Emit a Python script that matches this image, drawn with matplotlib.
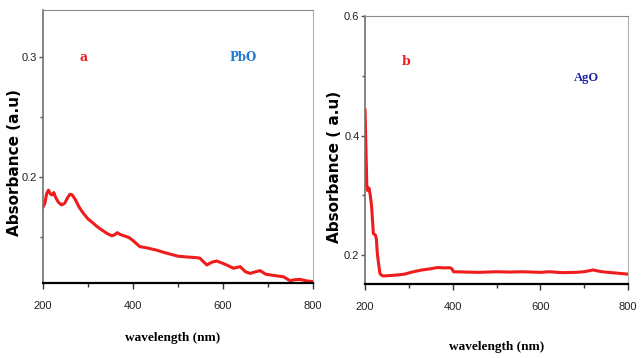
"""
UV-Vis absorbance spectra of PbO and AgO nanoparticles.
"""
import matplotlib
matplotlib.use('Agg')
import matplotlib.pyplot as plt
from matplotlib.ticker import MultipleLocator

# PbO spectrum (panel a)
pbo_wavelength = [200, 204, 208, 212, 216, 220, 224, 228, 234, 241, 248, 255, 260, 265,
                  272, 280, 289, 300, 310, 319, 330, 342, 353, 360, 365, 372, 380, 388,
                  393, 400, 415, 430, 453, 470, 485, 500, 515, 534, 548, 564, 575, 586,
                  600, 612, 623, 638, 650, 660, 672, 682, 695, 712, 722, 734, 749, 760,
                  771, 785, 800]
pbo_absorbance = [0.175, 0.178, 0.186, 0.189, 0.186, 0.185, 0.187, 0.183, 0.179, 0.1767,
                  0.178, 0.183, 0.1856, 0.185, 0.181, 0.175, 0.170, 0.165, 0.162, 0.159,
                  0.156, 0.153, 0.151, 0.152, 0.1536, 0.152, 0.151, 0.150, 0.149, 0.147,
                  0.142, 0.141, 0.139, 0.137, 0.1355, 0.134, 0.1335, 0.133, 0.1325, 0.1267,
                  0.129, 0.130, 0.128, 0.126, 0.124, 0.1253, 0.121, 0.1197, 0.121, 0.122,
                  0.119, 0.118, 0.1175, 0.1169, 0.1136, 0.1145, 0.1147, 0.1135, 0.1128]

# AgO spectrum (panel b)
ago_wavelength = [200, 202, 204, 206, 209, 212, 215, 219, 224, 226, 228, 231, 234, 238,
                  242, 255, 272, 290, 310, 330, 350, 364, 380, 394, 398, 402, 430, 460,
                  500, 530, 560, 600, 620, 650, 680, 700, 720, 740, 770, 800]
ago_absorbance = [0.443, 0.381, 0.317, 0.308, 0.312, 0.300, 0.281, 0.236, 0.233, 0.226,
                  0.203, 0.185, 0.169, 0.166, 0.165, 0.1655, 0.1665, 0.168, 0.172, 0.175,
                  0.177, 0.179, 0.1785, 0.1787, 0.177, 0.172, 0.1715, 0.171, 0.172, 0.1715,
                  0.172, 0.171, 0.172, 0.1705, 0.171, 0.172, 0.175, 0.172, 0.170, 0.168]

RED = '#ee1c1c'

fig = plt.figure(figsize=(6.43, 3.58), dpi=100)
ax1 = fig.add_axes([0.0669, 0.2095, 0.42, 0.7626])
ax2 = fig.add_axes([0.5677, 0.2067, 0.409, 0.7486])


def style_axes(ax, ylim, ymajor):
    ax.set_xlim(200, 800)
    ax.set_ylim(*ylim)
    ax.xaxis.set_major_locator(MultipleLocator(200))
    ax.xaxis.set_minor_locator(MultipleLocator(100))
    ax.yaxis.set_major_locator(MultipleLocator(ymajor))
    ax.yaxis.set_minor_locator(MultipleLocator(ymajor / 2))
    ax.spines['bottom'].set_color('black')
    ax.spines['bottom'].set_linewidth(1.6)
    ax.spines['left'].set_color('#707070')
    ax.spines['left'].set_linewidth(1.2)
    ax.spines['top'].set_color('#8a8a8a')
    ax.spines['right'].set_color('#b0b0b0')
    ax.tick_params(axis='both', labelsize=8, labelcolor='#222222',
                   labelfontfamily='Liberation Sans')
    ax.tick_params(axis='x', which='major', length=4, width=1, pad=9, color='#333333')
    ax.tick_params(axis='x', which='minor', length=3, width=1, color='#333333')
    ax.tick_params(axis='y', which='major', length=3, width=1, pad=1, color='#555555')
    ax.tick_params(axis='y', which='minor', length=2, width=1, color='#555555')
    ax.set_xlabel('wavelength (nm)', fontfamily='Liberation Serif', fontweight='bold',
                  fontsize=9.5)


ax1.plot(pbo_wavelength, pbo_absorbance, color=RED, lw=2.2)
style_axes(ax1, (0.1117, 0.339), 0.1)
ax1.set_ylabel('Absorbance (a.u)', fontfamily='DejaVu Sans', fontweight='bold',
               fontsize=11)
ax1.yaxis.set_label_coords(-0.078, 0.44)
ax1.xaxis.set_label_coords(0.48, -0.18)
ax1.text(0.15, 0.825, 'a', transform=ax1.transAxes, color=RED, fontsize=9,
         fontweight='bold', fontfamily='DejaVu Serif', ha='center', va='center')
ax1.text(0.74, 0.825, 'PbO', transform=ax1.transAxes, color='#1f7ad0', fontsize=8.5,
         fontweight='bold', fontfamily='DejaVu Serif', ha='center', va='center')

ax2.plot(ago_wavelength, ago_absorbance, color=RED, lw=2.2)
style_axes(ax2, (0.1515, 0.6), 0.2)
ax2.set_ylabel('Absorbance ( a.u)', fontfamily='DejaVu Sans', fontweight='bold',
               fontsize=11)
ax2.yaxis.set_label_coords(-0.088, 0.437)
ax2.xaxis.set_label_coords(0.50, -0.213)
ax2.text(0.155, 0.83, 'b', transform=ax2.transAxes, color=RED, fontsize=9,
         fontweight='bold', fontfamily='DejaVu Serif', ha='center', va='center')
ax2.text(0.84, 0.77, 'AgO', transform=ax2.transAxes, color='#1e22a8', fontsize=9,
         fontweight='bold', fontfamily='Liberation Serif', ha='center', va='center')

fig.savefig('out.png', dpi=100)
